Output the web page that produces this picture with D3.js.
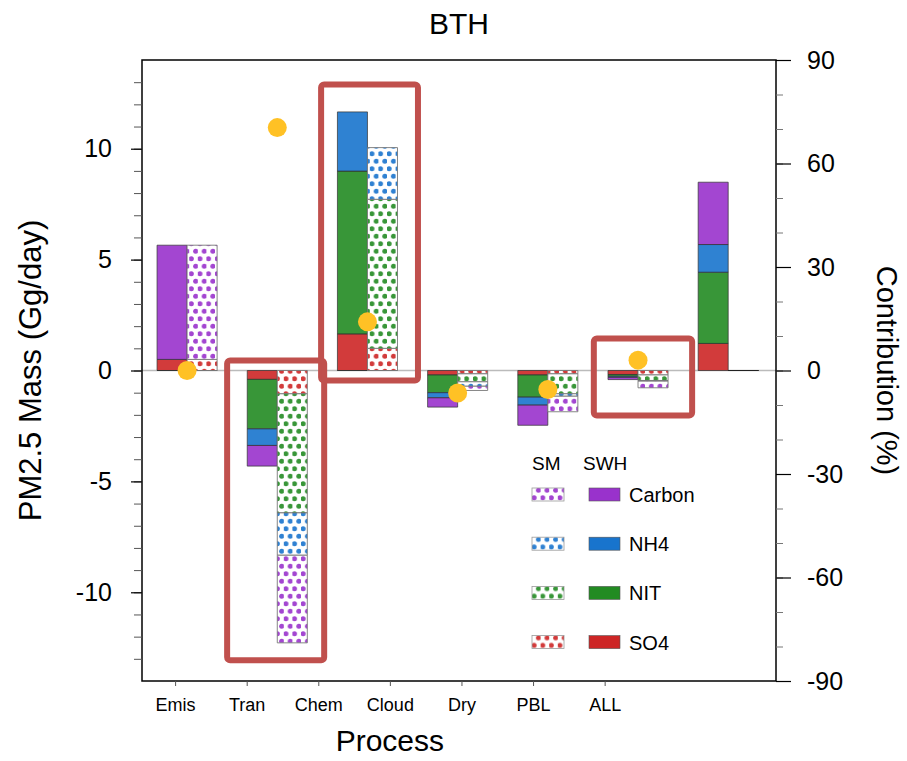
<!DOCTYPE html>
<html>
<head>
<meta charset="utf-8">
<script src="https://cdn.jsdelivr.net/npm/d3@7"></script>
<style>
  body { margin: 0; background: #fff; }
  text { font-family: "Liberation Sans", Arial, Helvetica, sans-serif; }
</style>
</head>
<body>
<div id="chart"></div>
<script>
// process categories and aerosol species (stack order, bottom up)
const processes = ["Emis", "Tran", "Chem", "Cloud", "Dry", "PBL", "ALL"];
const species = ["SO4", "NIT", "NH4", "Carbon"];
const legendOrder = ["Carbon", "NH4", "NIT", "SO4"];

// SWH (solid bars), Gg/day
const swhSO4    = [0.5, -0.4, 1.65, -0.2, -0.2, -0.18, 1.22];
const swhNIT    = [0, -2.23, 7.34, -0.8, -1.0, -0.08, 3.21];
const swhNH4    = [0, -0.75, 2.67, -0.23, -0.36, -0.05, 1.25];
const swhCarbon = [5.15, -0.93, 0, -0.42, -0.91, -0.1, 2.81];

// SM (dotted bars), Gg/day
const smSO4    = [0.5, -1.05, 1.0, -0.15, -0.15, -0.2, 0];
const smNIT    = [0, -5.37, 6.72, -0.36, -0.9, -0.25, 0];
const smNH4    = [0, -1.91, 2.33, -0.2, -0.11, -0.03, 0];
const smCarbon = [5.15, -3.95, 0, -0.19, -0.7, -0.3, 0];

// contribution (%) dots, right axis
const contribution = [0, 70.4, 14.1, -6.5, -5.5, 3.0, null];

// highlight boxes: [x from, x to] in process units, [y top, y bottom] in Gg/day
const boxX = [[2.486, 3.56], [1.444, 2.52], [5.51, 6.6]];
const boxY = [[12.9, -0.45], [0.45, -13.07], [1.44, -2.03]];

const leftTicks = [-10, -5, 0, 5, 10];
const rightTicks = [-90, -60, -30, 0, 30, 60, 90];

const colors = {
  Carbon: "#9932CC",
  NH4: "#1874CD",
  NIT: "#228B22",
  SO4: "#CD2626"
};

const width = 907, height = 761;
const plot = { left: 142, right: 776, top: 60, bottom: 681 };
const barW = 0.333;

const svg = d3.select("#chart").append("svg")
  .attr("width", width)
  .attr("height", height);

// dotted fill patterns
const defs = svg.append("defs");
species.forEach(s => {
  const p = defs.append("pattern")
    .attr("id", "dots-" + s)
    .attr("patternUnits", "userSpaceOnUse")
    .attr("width", 8.6)
    .attr("height", 15);
  p.append("rect").attr("width", 8.6).attr("height", 15).attr("fill", "#fff");
  p.append("circle").attr("cx", 2.15).attr("cy", 3.75).attr("r", 2.5).attr("fill", colors[s]).attr("fill-opacity", 0.9);
  p.append("circle").attr("cx", 6.45).attr("cy", 11.25).attr("r", 2.5).attr("fill", colors[s]).attr("fill-opacity", 0.9);
});

const x = d3.scaleLinear().domain([0.5, 7.53]).range([plot.left, plot.right]);
const y = d3.scaleLinear().domain([-14, 14]).range([plot.bottom, plot.top]);
const yR = d3.scaleLinear().domain([-90, 90]).range([plot.bottom, plot.top]);
// tick labels sit on their own spacing, as in the original figure
const xLab = d3.scalePoint().domain(processes).range([x(0.867), x(5.63)]);

// zero line
svg.append("line")
  .attr("x1", plot.left).attr("x2", plot.right)
  .attr("y1", y(0)).attr("y2", y(0))
  .attr("stroke", "#bbb").attr("stroke-width", 1.5);

function rows(arrs) {
  return processes.map((p, i) => {
    const r = { process: p, idx: i + 1 };
    species.forEach((s, k) => r[s] = arrs[k][i]);
    return r;
  });
}

const stack = d3.stack().keys(species).offset(d3.stackOffsetDiverging);
const swhLayers = stack(rows([swhSO4, swhNIT, swhNH4, swhCarbon]));
const smLayers = stack(rows([smSO4, smNIT, smNH4, smCarbon]));

function barPath(x0, x1, d) {
  return `M${x0},${y(d[1])}H${x1}V${y(d[0])}H${x0}Z`;
}

const barsG = svg.append("g").attr("class", "bars");

barsG.selectAll("g.swh")
  .data(swhLayers)
  .enter().append("g")
    .attr("class", "swh")
    .selectAll("path")
    .data(l => l.map(d => ({ key: l.key, d })))
    .enter().append("path")
      .attr("d", o => barPath(x(o.d.data.idx - barW), x(o.d.data.idx), o.d))
      .attr("fill", o => colors[o.key])
      .attr("fill-opacity", 0.9)
      .attr("stroke", "#333")
      .attr("stroke-opacity", 0.8)
      .attr("stroke-width", 0.9);

barsG.selectAll("g.sm")
  .data(smLayers)
  .enter().append("g")
    .attr("class", "sm")
    .selectAll("path")
    .data(l => l.map(d => ({ key: l.key, d })))
    .enter().append("path")
      .attr("d", o => barPath(x(o.d.data.idx), x(o.d.data.idx + barW), o.d))
      .attr("fill", o => `url(#dots-${o.key})`)
      .attr("stroke", o => o.d.data.process === "ALL" ? "#222" : "#777")
      .attr("stroke-width", 0.9);

// contribution dots
svg.append("g").selectAll("circle")
  .data(contribution.map((v, i) => ({ v, idx: i + 1 })).filter(d => d.v !== null))
  .enter().append("circle")
    .attr("cx", d => x(d.idx))
    .attr("cy", d => yR(d.v))
    .attr("r", 9.5)
    .attr("fill", "#FFC125");

// highlight boxes
svg.append("g").selectAll("rect")
  .data(boxX.map((bx, i) => ({ bx, by: boxY[i] })))
  .enter().append("rect")
    .attr("x", d => x(d.bx[0]))
    .attr("y", d => y(d.by[0]))
    .attr("width", d => x(d.bx[1]) - x(d.bx[0]))
    .attr("height", d => y(d.by[1]) - y(d.by[0]))
    .attr("rx", 3)
    .attr("fill", "none")
    .attr("stroke", "#C0504D")
    .attr("stroke-width", 6);

// frame
svg.append("rect")
  .attr("x", plot.left).attr("y", plot.top)
  .attr("width", plot.right - plot.left)
  .attr("height", plot.bottom - plot.top)
  .attr("fill", "none")
  .attr("stroke", "#000")
  .attr("stroke-width", 1.5);

const plain = d => String(d);

// left axis
const gl = svg.append("g").attr("transform", `translate(${plot.left},0)`);
gl.append("g")
  .call(d3.axisLeft(y).tickValues(d3.range(-13, 14)).tickSize(8).tickFormat(""))
  .call(g => g.select(".domain").remove())
  .call(g => g.selectAll("line").attr("stroke", "#555"));
gl.append("g")
  .call(d3.axisLeft(y).tickValues(leftTicks).tickSize(11).tickPadding(19).tickFormat(plain))
  .call(g => g.select(".domain").remove())
  .call(g => g.selectAll("line").attr("stroke-width", 1.2))
  .call(g => g.selectAll("text").attr("font-size", 25).attr("fill", "#000")
    .attr("font-family", "Liberation Sans, Arial, sans-serif"));

// right axis
const gr = svg.append("g").attr("transform", `translate(${plot.right},0)`);
gr.append("g")
  .call(d3.axisRight(yR).tickValues(d3.range(-80, 90, 10)).tickSize(7).tickFormat(""))
  .call(g => g.select(".domain").remove())
  .call(g => g.selectAll("line").attr("stroke", "#777"));
gr.append("g")
  .call(d3.axisRight(yR).tickValues(rightTicks).tickSize(15).tickPadding(16).tickFormat(plain))
  .call(g => g.select(".domain").remove())
  .call(g => g.selectAll("line").attr("stroke-width", 1.2))
  .call(g => g.selectAll("text").attr("font-size", 25).attr("fill", "#000")
    .attr("font-family", "Liberation Sans, Arial, sans-serif"));

// bottom axis
svg.append("g")
  .attr("transform", `translate(0,${plot.bottom})`)
  .call(d3.axisBottom(xLab).tickSize(5).tickPadding(12))
  .call(g => g.select(".domain").remove())
  .call(g => g.selectAll("line").attr("stroke", "#555"))
  .call(g => g.selectAll("text").attr("font-size", 18).attr("fill", "#000")
    .attr("font-family", "Liberation Sans, Arial, sans-serif"));

// titles
svg.append("text")
  .attr("x", (plot.left + plot.right) / 2).attr("y", 34)
  .attr("text-anchor", "middle")
  .attr("font-size", 30)
  .text("BTH");

svg.append("text")
  .attr("x", xLab("Cloud")).attr("y", 751)
  .attr("text-anchor", "middle")
  .attr("font-size", 30)
  .text("Process");

svg.append("text")
  .attr("transform", `translate(41,${y(0)}) rotate(-90)`)
  .attr("text-anchor", "middle")
  .attr("font-size", 31)
  .text("PM2.5 Mass (Gg/day)");

svg.append("text")
  .attr("transform", `translate(877,${y(0)}) rotate(90)`)
  .attr("text-anchor", "middle")
  .attr("font-size", 29)
  .text("Contribution (%)");

// legend
const legend = svg.append("g").attr("transform", "translate(532,0)");
legend.append("text").attr("x", 0).attr("y", 470).attr("font-size", 19).text("SM");
legend.append("text").attr("x", 51).attr("y", 470).attr("font-size", 19).text("SWH");

const item = legend.selectAll("g.item")
  .data(legendOrder)
  .enter().append("g")
    .attr("class", "item")
    .attr("transform", (d, i) => `translate(0,${494 + i * 49.2})`);
item.append("rect")
  .attr("x", 0).attr("y", -6).attr("width", 32).attr("height", 13)
  .attr("fill", d => `url(#dots-${d})`)
  .attr("stroke", "#999").attr("stroke-width", 0.8);
item.append("rect")
  .attr("x", 57).attr("y", -6).attr("width", 31).attr("height", 13)
  .attr("fill", d => colors[d])
  .attr("stroke", "#555").attr("stroke-width", 0.6);
item.append("text")
  .attr("x", 97).attr("y", 8)
  .attr("font-size", 20)
  .text(d => d);
</script>
</body>
</html>
